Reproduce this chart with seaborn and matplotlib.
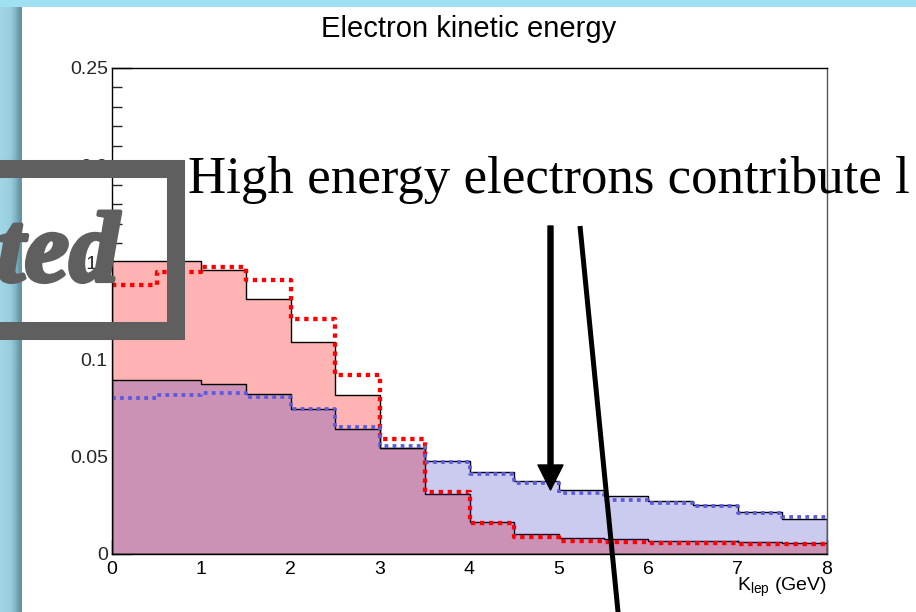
import numpy as np
import pandas as pd
import matplotlib
matplotlib.use("Agg")
import matplotlib.pyplot as plt
import matplotlib.patheffects as pe
import seaborn as sns
from matplotlib.patches import Rectangle
from matplotlib.lines import Line2D
from matplotlib.ticker import FixedLocator, FixedFormatter, MultipleLocator

# ---------------- data ----------------
bin_edges = [0.0, 0.5, 1.0, 1.5, 2.0, 2.5, 3.0, 3.5, 4.0,
             4.5, 5.0, 5.5, 6.0, 6.5, 7.0, 7.5, 8.0]
# solid black histogram, pink fill
pink_hist = [0.1505, 0.1505, 0.1460, 0.1314, 0.1088, 0.0819, 0.0543, 0.0307,
             0.0163, 0.0103, 0.0081, 0.0075, 0.0069, 0.0065, 0.0062, 0.0058]
# solid black histogram, lavender fill
lavender_hist = [0.0893, 0.0893, 0.0877, 0.0824, 0.0744, 0.0642, 0.0543, 0.0478,
                 0.0423, 0.0375, 0.0329, 0.0297, 0.0272, 0.0250, 0.0214, 0.0181]
# red dotted histogram
red_dotted = [0.1386, 0.1453, 0.1476, 0.1408, 0.1211, 0.0920, 0.0589, 0.0320,
              0.0158, 0.0089, 0.0069, 0.0062, 0.0058, 0.0055, 0.0053, 0.0050]
# blue dotted histogram
blue_dotted = [0.0805, 0.0820, 0.0829, 0.0808, 0.0744, 0.0654, 0.0555, 0.0471,
               0.0411, 0.0363, 0.0312, 0.0277, 0.0260, 0.0247, 0.0212, 0.0189]

x_ticks = [0, 1, 2, 3, 4, 5, 6, 7, 8]
x_tick_labels = ["0", "1", "2", "3", "4", "5", "6", "7", "8"]
y_ticks = [0.0, 0.05, 0.10, 0.15, 0.20, 0.25]
y_tick_labels = ["0", "0.05", "0.1", "0.15", "0.2", "0.25"]

title = "Electron kinetic energy"
xlabel = r"K$_{\rm lep}$ (GeV)"
overlay_text = "High energy electrons contribute l"
box_text = "ted"

# ---------------- style ----------------
sns.set_style("ticks")
plt.rcParams["font.family"] = ["Liberation Sans", "DejaVu Sans"]
plt.rcParams["mathtext.fontset"] = "custom"
plt.rcParams["mathtext.rm"] = "Liberation Sans"
plt.rcParams["mathtext.it"] = "Liberation Sans:italic"

W, H = 916, 612
fig = plt.figure(figsize=(W / 100, H / 100), dpi=100)
fig.patch.set_facecolor("white")


def fx(px):
    return px / W


def fy(py):
    return 1 - py / H


ax = fig.add_axes([fx(112), fy(554), fx(827) - fx(112), fy(68) - fy(554)])

edges = np.array(bin_edges)
centers = (edges[:-1] + edges[1:]) / 2

sns.histplot(x=centers, weights=pink_hist, bins=bin_edges, element="step",
             fill=True, facecolor=(1.0, 0.70, 0.70, 1.0), edgecolor="black",
             linewidth=1.0, ax=ax)
sns.histplot(x=centers, weights=lavender_hist, bins=bin_edges, element="step",
             fill=True, facecolor=(0.19, 0.19, 0.76, 0.25), edgecolor="black",
             linewidth=1.0, ax=ax)
sns.histplot(x=centers, weights=red_dotted, bins=bin_edges, element="step",
             fill=False, color="#ff0000", linewidth=3.1,
             linestyle=(0, (1.0, 1.1)), ax=ax)
sns.histplot(x=centers, weights=blue_dotted, bins=bin_edges, element="step",
             fill=False, color="#5a5ae0", linewidth=2.7,
             linestyle=(0, (1.0, 1.15)), ax=ax)

ax.set_xlim(0, 8)
ax.set_ylim(0, 0.25)
ax.set_xlabel("")
ax.set_ylabel("")
ax.set_facecolor("white")

ax.xaxis.set_major_locator(FixedLocator(x_ticks))
ax.xaxis.set_major_formatter(FixedFormatter(x_tick_labels))
ax.xaxis.set_minor_locator(MultipleLocator(0.2))
ax.yaxis.set_major_locator(FixedLocator(y_ticks))
ax.yaxis.set_major_formatter(FixedFormatter(y_tick_labels))
ax.yaxis.set_minor_locator(MultipleLocator(0.01))

ax.tick_params(axis="x", which="major", direction="in", length=10, width=1,
               labelsize=14, pad=5, top=False, bottom=True, colors="black")
ax.tick_params(axis="x", which="minor", direction="in", length=5, width=1,
               top=False, bottom=True)
ax.tick_params(axis="y", which="major", direction="in", length=14.4, width=1,
               labelsize=14, pad=3, right=False, left=True)
ax.tick_params(axis="y", which="minor", direction="in", length=7.2, width=1,
               right=False, left=True)
for s in ax.spines.values():
    s.set_visible(True)
    s.set_color("black")
    s.set_linewidth(1.0)
ax.spines["right"].set_color("#555555")

# title and axis label
fig.text(fx(469), fy(37), title, ha="center", va="baseline", fontsize=21,
         color="black")
fig.text(fx(827), fy(591), xlabel, ha="right", va="baseline", fontsize=14,
         color="black")

# ---------------- slide background bands ----------------
band_ax = fig.add_axes([0, 0, fx(22), 1], zorder=-5)
grad = np.array([[160, 214, 228], [156, 210, 225], [150, 204, 220],
                 [130, 182, 198], [100, 150, 165]]) / 255.0
band_ax.imshow(grad[np.newaxis, :, :], aspect="auto",
               extent=[0, 1, 0, 1], interpolation="bilinear")
band_ax.set_axis_off()
fig.patches.append(Rectangle((0, fy(7)), 1, 1 - fy(7), transform=fig.transFigure,
                             facecolor="#9fe0f3", edgecolor="none", zorder=1))

# ---------------- slide overlays ----------------
fig.text(fx(188), fy(193), overlay_text, ha="left", va="baseline",
         fontsize=38.1, family=["Liberation Serif"], color="black", zorder=6)

fig.patches.append(Rectangle((fx(-60), fy(331)), fx(176.5) - fx(-60),
                             fy(168.5) - fy(331), transform=fig.transFigure,
                             facecolor="none", edgecolor="#5f5f5f",
                             linewidth=13, zorder=7))
fig.text(fx(119), fy(281), box_text, ha="right", va="baseline", fontsize=72,
         family=["Liberation Serif"], weight="bold", style="italic",
         color="#5f5f5f", zorder=8,
         path_effects=[pe.withStroke(linewidth=3, foreground="#5f5f5f")])

ax.annotate("", xy=(550.5, H - 490), xytext=(550.5, H - 226),
            xycoords="figure pixels", textcoords="figure pixels",
            arrowprops=dict(width=3.6, headwidth=18, headlength=18,
                            facecolor="black", edgecolor="black", shrink=0.0),
            annotation_clip=False, zorder=9)
fig.add_artist(Line2D([fx(580), fx(620)], [fy(226), fy(632)],
                      transform=fig.transFigure, color="black", linewidth=3.6,
                      solid_capstyle="butt", zorder=9))

fig.savefig("out.png", dpi=100)
